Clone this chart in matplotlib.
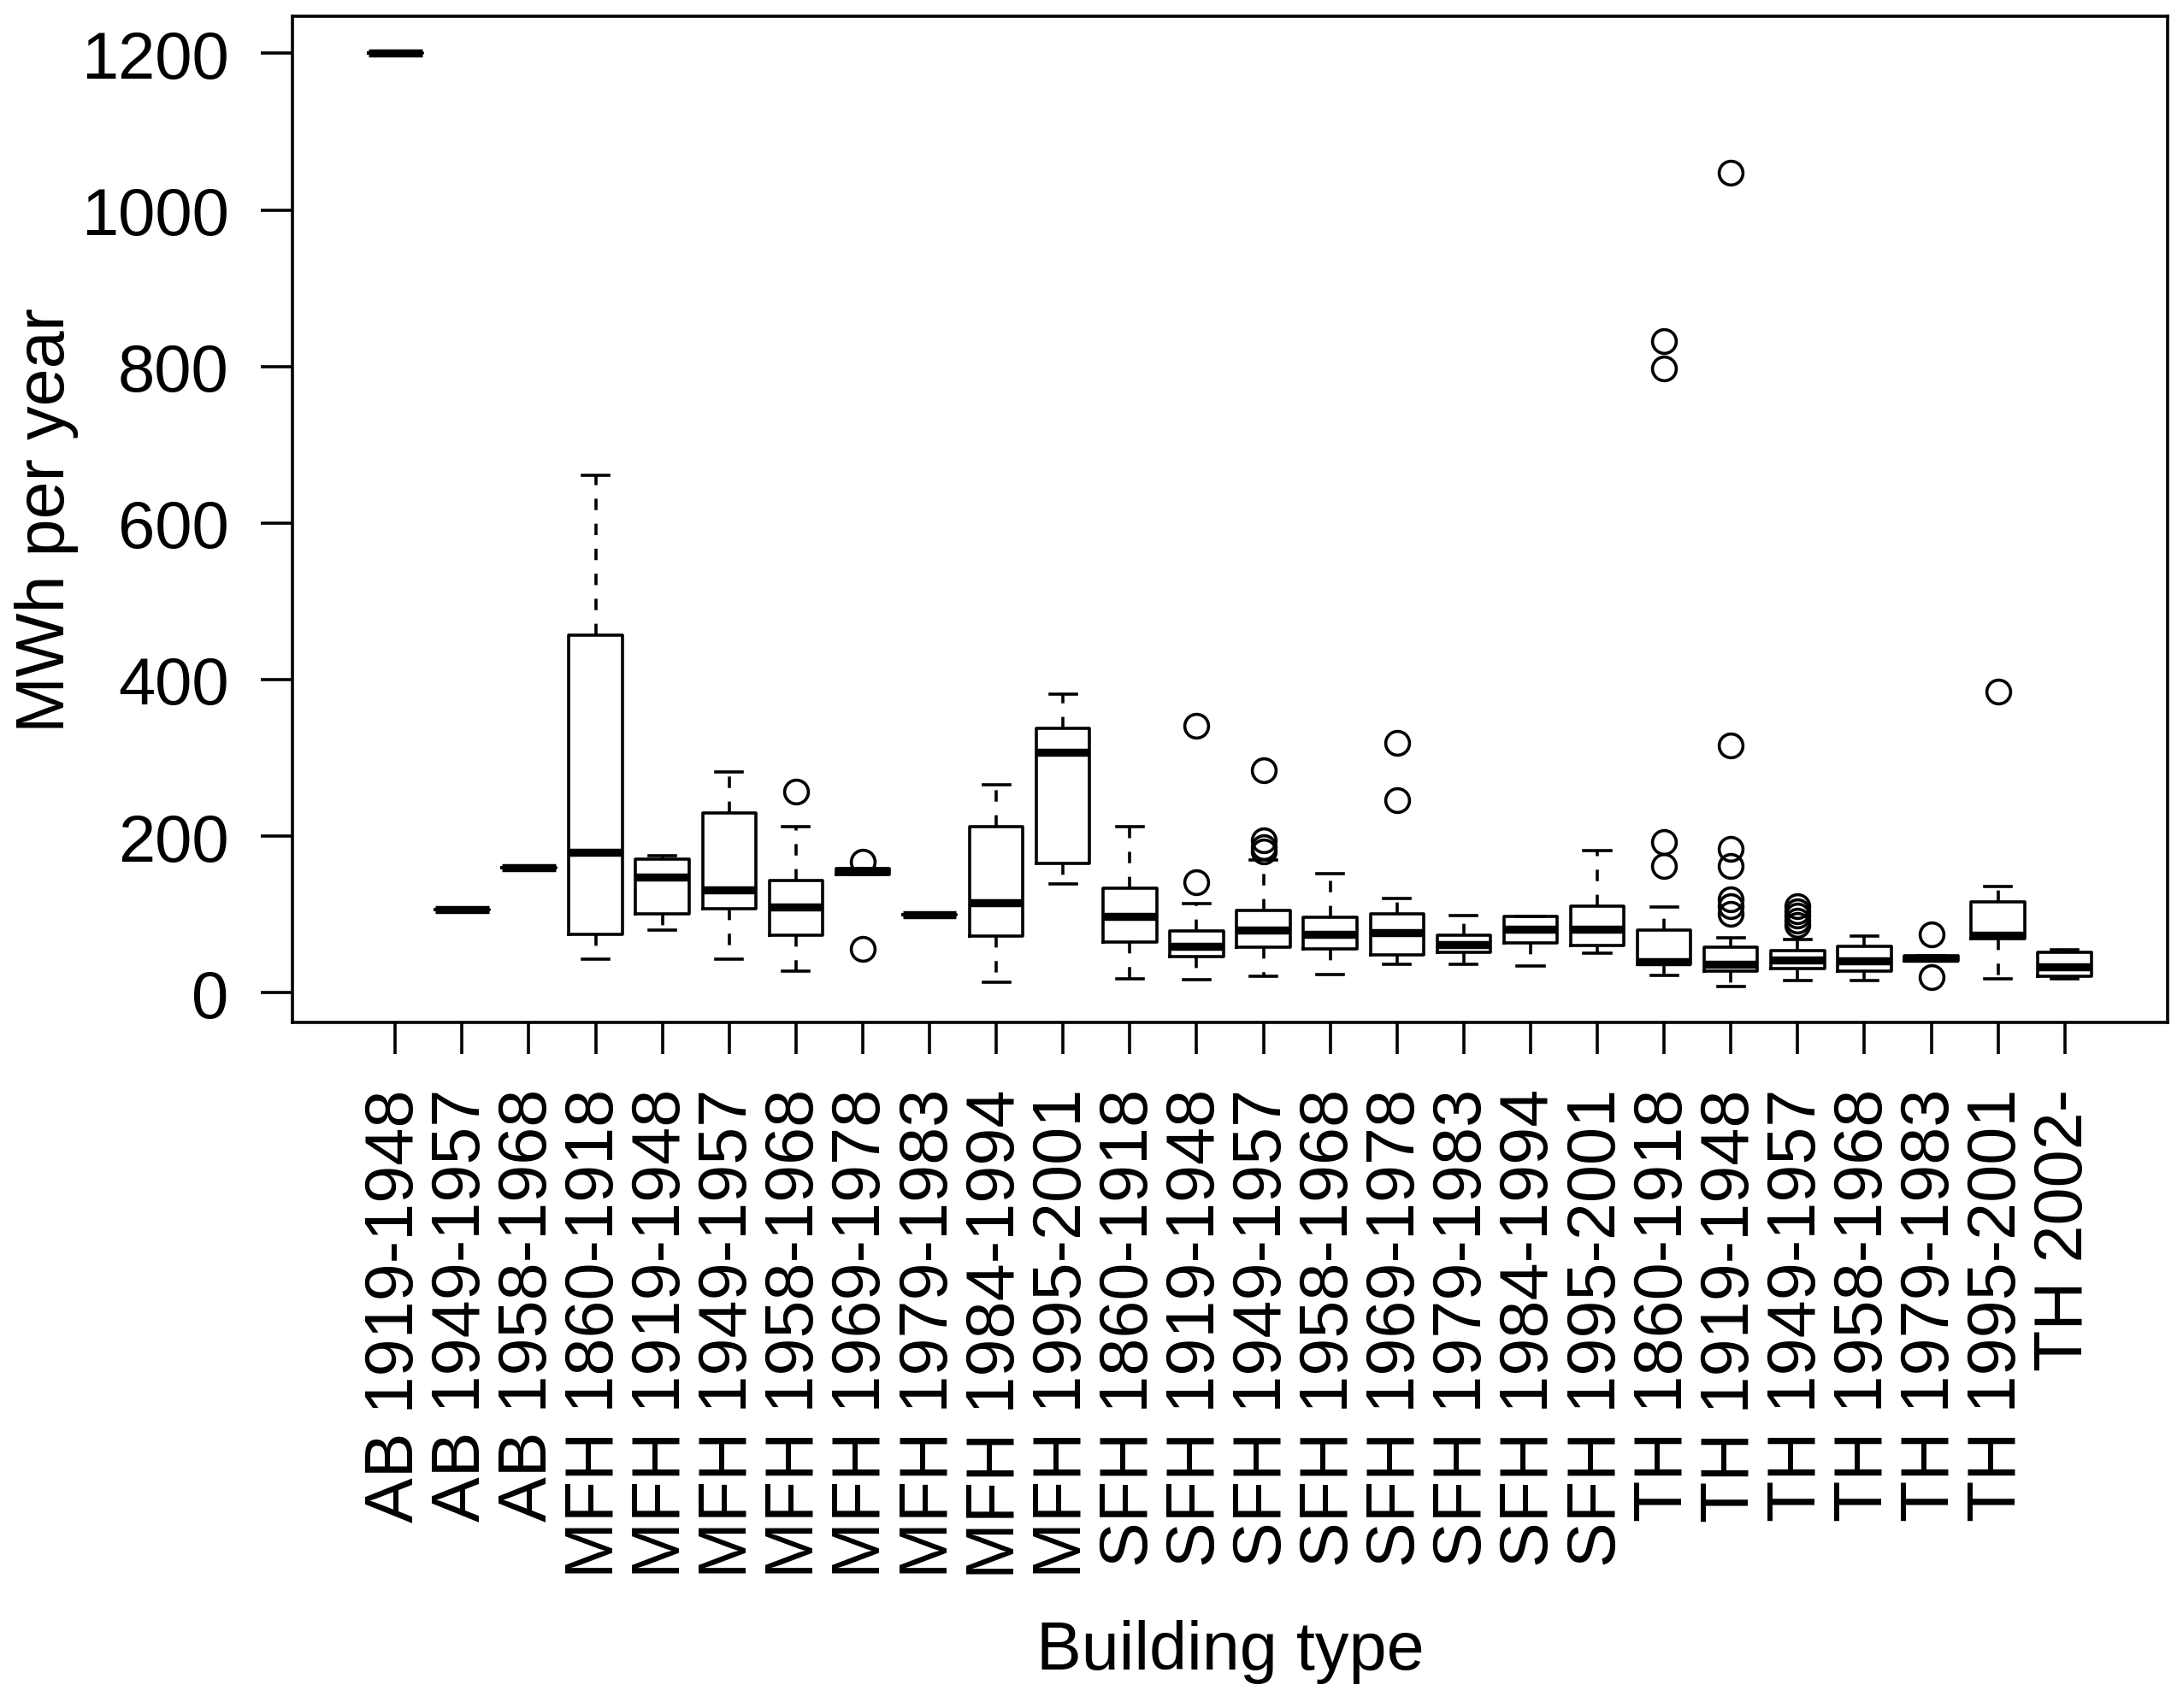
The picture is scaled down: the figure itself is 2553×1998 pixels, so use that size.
import matplotlib
matplotlib.use("Agg")
import matplotlib.pyplot as plt

plt.rcParams['font.family'] = ['Liberation Sans', 'DejaVu Sans']

categories = ["AB 1919-1948", "AB 1949-1957", "AB 1958-1968",
              "MFH 1860-1918", "MFH 1919-1948", "MFH 1949-1957", "MFH 1958-1968",
              "MFH 1969-1978", "MFH 1979-1983", "MFH 1984-1994", "MFH 1995-2001",
              "SFH 1860-1918", "SFH 1919-1948", "SFH 1949-1957", "SFH 1958-1968",
              "SFH 1969-1978", "SFH 1979-1983", "SFH 1984-1994", "SFH 1995-2001",
              "TH 1860-1918", "TH 1919-1948", "TH 1949-1957", "TH 1958-1968",
              "TH 1979-1983", "TH 1995-2001", "TH 2002-"]

whislo = [1200, 106, 160, 43, 80, 43, 27, 151, 100, 13, 139,
          18, 17, 21, 23, 36, 36, 34, 51,
          22, 8, 15, 15, 41, 18, 18]
q1 = [1200, 106, 160, 75, 101, 107, 73, 151, 100, 72, 165,
      65, 46, 58, 56, 48, 52, 64, 60,
      36, 28, 31, 27, 41, 69, 21]
med = [1200, 106, 160, 179, 148, 131, 109, 155, 100, 115, 307,
       97, 59, 80, 75, 77, 61, 81, 81,
       39, 36, 42, 41, 44, 73, 33]
q3 = [1200, 106, 160, 457, 171, 230, 143, 159, 100, 212, 338,
      134, 79, 105, 96, 101, 73, 97, 111,
      80, 58, 54, 59, 47, 116, 52]
whishi = [1200, 106, 160, 661, 175, 282, 212, 159, 100, 266, 381,
          212, 114, 170, 152, 120, 99, 97, 181,
          109, 70, 68, 72, 47, 136, 55]
fliers = [[], [], [], [], [], [], [257], [167, 56], [], [], [],
          [], [341, 141], [284, 195, 186, 180], [], [319, 246], [], [], [],
          [832, 797, 192, 162], [1048, 316, 184, 162, 119, 110, 101],
          [110, 104, 98, 92, 87], [], [75, 20], [385], []]

yticks = [0, 200, 400, 600, 800, 1000, 1200]

stats = []
for i in range(len(categories)):
    stats.append(dict(label=categories[i], whislo=whislo[i], q1=q1[i], med=med[i],
                      q3=q3[i], whishi=whishi[i], fliers=fliers[i]))

fig = plt.figure(figsize=(25.53, 19.99), dpi=100)
ax = fig.add_axes([342/2553, 1 - 1197/1999, (2535-342)/2553, (1197-19.5)/1999])

lw = 2.6
positions = list(range(1, len(categories) + 1))
ax.bxp(stats, positions=positions, widths=0.8, capwidths=0.4,
       boxprops=dict(color='black', linewidth=lw),
       whiskerprops=dict(color='black', linewidth=lw, linestyle=(0, (3.7, 4.4))),
       capprops=dict(color='black', linewidth=lw),
       medianprops=dict(color='black', linewidth=6.8, solid_capstyle='butt'),
       flierprops=dict(marker='o', markerfacecolor='none', markeredgecolor='black',
                       markersize=20, markeredgewidth=lw, linestyle='none'),
       manage_ticks=False)

ax.set_xlim(-0.54, 27.54)
ax.set_ylim(-38, 1248)
ax.set_xticks(positions)
ax.set_xticklabels(categories, rotation=90, fontsize=57)
ax.set_yticks(yticks)
ax.set_yticklabels([str(v) for v in yticks], fontsize=56)
ax.tick_params(axis='both', direction='out', length=26.5, width=lw, color='black')
ax.tick_params(axis='y', pad=27)
ax.tick_params(axis='x', pad=29)
for s in ax.spines.values():
    s.set_linewidth(lw)
    s.set_color('black')

ax.set_ylabel("MWh per year", fontsize=57)
ax.yaxis.set_label_coords(-0.114, 0.5)
ax.set_xlabel("Building type", fontsize=57)
ax.xaxis.set_label_coords(0.5, -0.593)

fig.savefig("out.png", dpi=100, facecolor='white')
